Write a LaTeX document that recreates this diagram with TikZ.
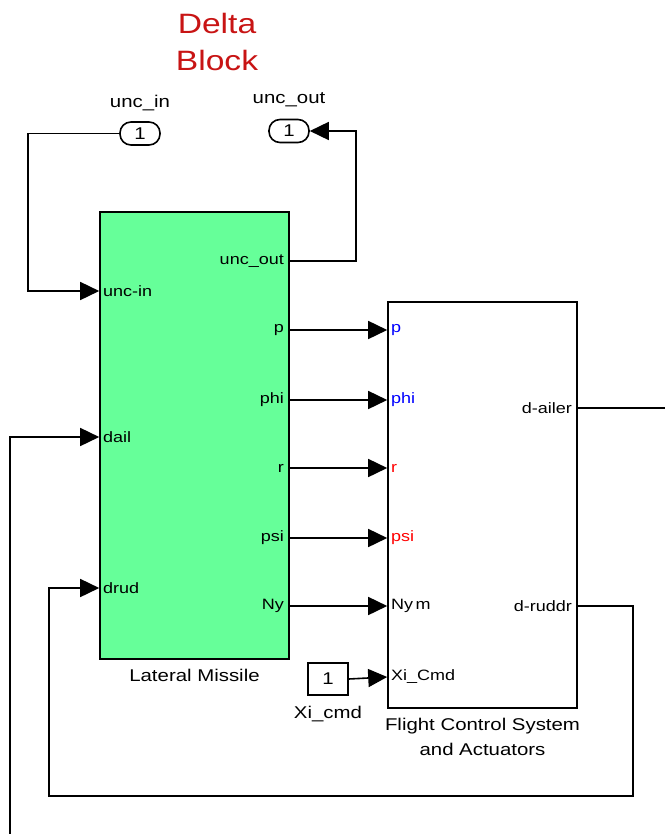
\documentclass[tikz,border=0pt]{standalone}
\usepackage{xcolor}
\usepackage{fontspec}
\setmainfont{Liberation Sans}[FakeStretch=1.2]
\usepackage{tikz}
\usetikzlibrary{shapes.geometric, arrows.meta, positioning}
\definecolor{plantgreen}{RGB}{102,255,153}
\definecolor{titlered}{RGB}{200,20,20}
\tikzstyle{plant} = [rectangle, minimum width=189pt, minimum height=447pt, draw=black, line width=1.6pt, fill=plantgreen]
\tikzstyle{ctrl} = [rectangle, minimum width=189pt, minimum height=406pt, draw=black, line width=1.6pt, fill=white]
\tikzstyle{port} = [rectangle, rounded corners=11pt, minimum width=40pt, minimum height=23pt, draw=black, line width=1.6pt, inner sep=0pt, font=\fontsize{17}{18}\selectfont]
\tikzstyle{const} = [rectangle, minimum width=40pt, minimum height=32pt, draw=black, line width=1.6pt, inner sep=0pt, font=\fontsize{17}{18}\selectfont]
\tikzstyle{pin} = [inner sep=0pt, font=\fontsize{15}{18}\selectfont]
\tikzstyle{caption} = [inner sep=0pt, align=center, font=\fontsize{17}{25}\selectfont]
\tikzstyle{sig} = [line width=1.6pt, -{Triangle[length=19pt, width=18pt]}]

\begin{document}
\begin{tikzpicture}[x=1pt, y=-1pt]
    \useasboundingbox (0,0) rectangle (665,834);

    \node (title) [caption, text=titlered, font=\fontsize{28}{37}\selectfont] at (217,42) {Delta\\Block};

    \node (uncIn) [port] at (140,133.5) {1};
    \node (uncOut) [port] at (289,131) {1};
    \node [caption, above=10pt of uncIn] {unc\_in};
    \node [caption, above=12pt of uncOut] {unc\_out};

    \node (lm) [plant] at (194.5,435.5) {};
    \node (fcs) [ctrl] at (482.5,505) {};
    \node (xiC) [const] at (328,679) {1};
    \node (lmName) [caption, below=9pt of lm] {Lateral Missile};
    \node (fcsName) [caption, below=9pt of fcs] {Flight Control System\\and Actuators};
    \node (xiName) [caption, below=10pt of xiC] {Xi\_cmd};

    % ports of the missile
    \node (mUncIn) [pin, anchor=west] at (103,291) {unc-in};
    \node (mDail) [pin, anchor=west] at (103,437) {dail};
    \node (mDrud) [pin, anchor=west] at (103,588) {drud};
    \node (mUncOut) [pin, anchor=east] at (284,261) {unc\_out};
    \node (mP) [pin, anchor=east] at (284,330) {p};
    \node (mPhi) [pin, anchor=east] at (284,400) {phi};
    \node (mR) [pin, anchor=east] at (284,468) {r};
    \node (mPsi) [pin, anchor=east] at (284,538) {psi};
    \node (mNy) [pin, anchor=east] at (284,606) {Ny};

    % ports of the controller
    \node (fP) [pin, anchor=west, text=blue] at (391,330) {p};
    \node (fPhi) [pin, anchor=west, text=blue] at (391,400) {phi};
    \node (fR) [pin, anchor=west, text=red] at (391,468) {r};
    \node (fPsi) [pin, anchor=west, text=red] at (391,538) {psi};
    \node (fNym) [pin, anchor=west] at (391,606) {Ny\,m};
    \node (fXi) [pin, anchor=west] at (391,677) {Xi\_Cmd};
    \node (fAil) [pin, anchor=east] at (572,408) {d-ailer};
    \node (fRud) [pin, anchor=east] at (572,606) {d-ruddr};

    \coordinate (ailOut) at (665,408);
    \coordinate (dailIn) at (10,834);
    \coordinate (rudLoop) at (633,796);
    \coordinate (drudLoop) at (49,796);

    \draw [sig] (uncIn.west) -- ++(-91,0) |- (lm.west |- mUncIn);
    \draw [sig] (lm.east |- mUncOut) -- ++(66,0) |- (uncOut.east);
    \foreach \a/\b in {mP/fP, mPhi/fPhi, mR/fR, mPsi/fPsi, mNy/fNym}
        \draw [sig] (lm.east |- \a) -- (fcs.west |- \b);
    \draw [sig] (xiC.east) -- (fcs.west |- fXi);
    \draw [line width=1.6pt] (fcs.east |- fAil) -- (ailOut);
    \draw [sig] (dailIn) |- (lm.west |- mDail);
    \draw [sig] (fcs.east |- fRud) -| (rudLoop) -- (drudLoop) |- (lm.west |- mDrud);
\end{tikzpicture}
\end{document}
